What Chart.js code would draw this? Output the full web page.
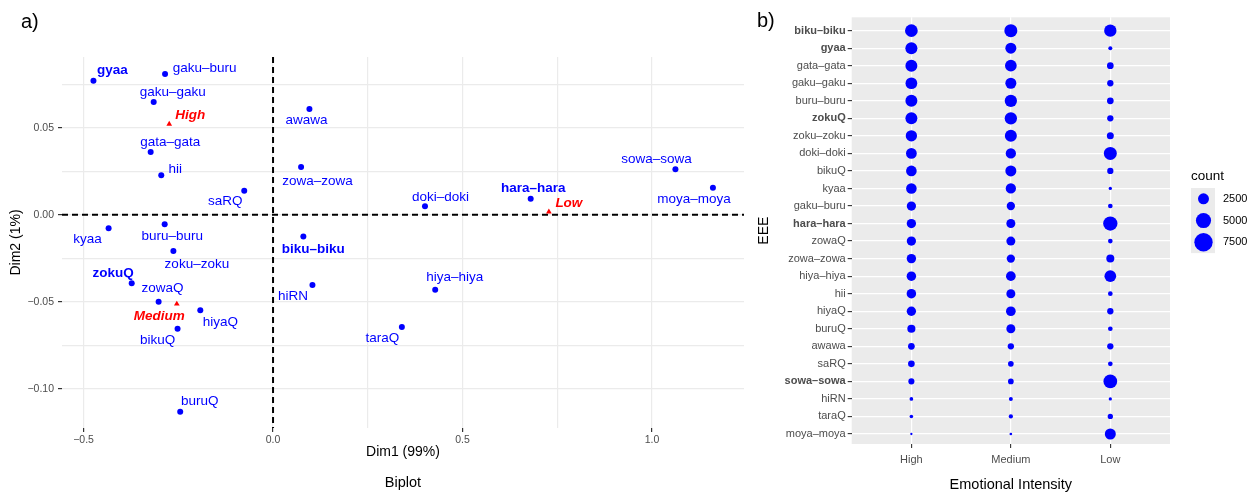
<!DOCTYPE html>
<html>
<head>
<meta charset="utf-8">
<title>Biplot and EEE counts</title>
<script src="https://cdn.jsdelivr.net/npm/chart.js@4.4.1/dist/chart.umd.min.js"></script>
<style>
  body { margin: 0; background: #fff; width: 1255px; height: 495px; position: relative; overflow: hidden;
         font-family: 'Liberation Sans', Arial, Helvetica, sans-serif; }
  canvas { position: absolute; top: 0; }
  #biplot { left: 0; }
  #bubbles { left: 752px; }
  .tag { position: absolute; font-size: 20px; line-height: 20px; color: #000; }
  #biplotTitle { position: absolute; left: 62px; width: 682px; top: 474px; text-align: center;
                 font-size: 14.5px; line-height: 17px; color: #000; }
</style>
</head>
<body>
<canvas id="biplot" width="760" height="495"></canvas>
<canvas id="bubbles" width="503" height="495"></canvas>
<div class="tag" style="left:21px;top:11px">a)</div>
<div class="tag" style="left:757px;top:10px">b)</div>
<div id="biplotTitle">Biplot</div>
<script>
// ---- a) biplot: expressions and intensity levels on Dim1/Dim2
const words = ['gyaa', 'gaku–buru', 'gaku–gaku', 'gata–gata', 'hii', 'saRQ', 'awawa', 'zowa–zowa',
  'buru–buru', 'kyaa', 'biku–biku', 'zoku–zoku', 'zokuQ', 'zowaQ', 'hiyaQ', 'bikuQ', 'hiRN',
  'buruQ', 'taraQ', 'hiya–hiya', 'doki–doki', 'hara–hara', 'sowa–sowa', 'moya–moya'];
const wordDim1 = [-0.474, -0.285, -0.315, -0.323, -0.295, -0.076, 0.096, 0.074,
  -0.286, -0.434, 0.080, -0.263, -0.373, -0.302, -0.192, -0.252, 0.104,
  -0.245, 0.340, 0.428, 0.401, 0.680, 1.062, 1.161];
const wordDim2 = [0.0770, 0.0809, 0.0648, 0.0360, 0.0226, 0.0138, 0.0607, 0.0274,
  -0.0055, -0.0078, -0.0126, -0.0209, -0.0394, -0.0500, -0.0550, -0.0655, -0.0404,
  -0.1132, -0.0645, -0.0431, 0.0048, 0.0092, 0.0261, 0.0155];

const levels = ['High', 'Medium', 'Low'];
const levelDim1 = [-0.274, -0.254, 0.728];
const levelDim2 = [0.0520, -0.0513, 0.0016];

// grid positions on Dim1 (no line shown at -0.25 in the original)
const dim1Ticks = [-0.5, 0, 0.25, 0.5, 0.75, 1.0];
const dim2Ticks = [-0.1, -0.075, -0.05, -0.025, 0, 0.025, 0.05, 0.075];

// ---- b) counts per expression and intensity
const eee = ['biku–biku', 'gyaa', 'gata–gata', 'gaku–gaku', 'buru–buru', 'zokuQ', 'zoku–zoku',
  'doki–doki', 'bikuQ', 'kyaa', 'gaku–buru', 'hara–hara', 'zowaQ', 'zowa–zowa', 'hiya–hiya',
  'hii', 'hiyaQ', 'buruQ', 'awawa', 'saRQ', 'sowa–sowa', 'hiRN', 'taraQ', 'moya–moya'];
const countHigh = [3420, 3050, 3000, 2880, 3010, 2990, 2650, 2380, 2320, 2300, 1700, 1740,
  1720, 1760, 1790, 1800, 1740, 1260, 820, 800, 640, 180, 170, 40];
const countMedium = [3600, 2500, 2860, 2500, 3190, 3190, 3020, 2160, 2500, 2160, 1330, 1600,
  1600, 1330, 1890, 1600, 1890, 1600, 700, 550, 550, 225, 270, 70];
const countLow = [3190, 225, 810, 700, 810, 700, 900, 3600, 700, 130, 340, 4420,
  340, 1225, 2860, 340, 700, 340, 700, 340, 4030, 130, 460, 2500];
const countBreaks = [2500, 5000, 7500];

// ---- label layout (pixel nudges, like ggrepel) and emphasis
const wordNudge = [[19, -10], [39.5, -6], [19, -10], [19.5, -10], [14, -6], [-19, 10.5], [-3, 11], [16.5, 14],
  [7.5, 12], [-21, 11], [10, 12.5], [23.5, 13], [-18.5, -10], [4, -13], [20, 12], [-20, 11.5], [-19.5, 11.5],
  [19.5, -10], [-19.5, 11.5], [19.5, -12.5], [15.5, -9.5], [2.5, -10], [-19, -9.5], [-19, 11.5]];
const levelNudge = [[21, -9], [-17.5, 12.5], [20, -9]];
const boldA = new Set(['gyaa', 'zokuQ', 'biku–biku', 'hara–hara']);
const boldB = new Set(['biku–biku', 'gyaa', 'zokuQ', 'hara–hara', 'sowa–sowa']);

const FONT = "'Liberation Sans', Arial, Helvetica, sans-serif";
Chart.defaults.font.family = FONT;
Chart.defaults.animation = false;

const minus = s => s.replace('-', '\u2212');
const isMajor = (v, step) => Math.abs(v / step - Math.round(v / step)) < 1e-6;
const bubbleRadius = v => 0.5 + Math.sqrt(v) / 10;

// dashed reference lines through the origin
const zeroLines = {
  id: 'zeroLines',
  beforeDatasetsDraw(chart) {
    const { ctx, chartArea: a, scales: { x, y } } = chart;
    const x0 = x.getPixelForValue(0), y0 = y.getPixelForValue(0);
    ctx.save();
    ctx.strokeStyle = '#000';
    ctx.lineWidth = 2;
    ctx.setLineDash([6, 4]);
    ctx.beginPath();
    ctx.moveTo(x0, a.top); ctx.lineTo(x0, a.bottom);
    ctx.moveTo(a.left, y0); ctx.lineTo(a.right, y0);
    ctx.stroke();
    ctx.restore();
  }
};

// text labels next to each point
const pointLabels = {
  id: 'pointLabels',
  afterDatasetsDraw(chart) {
    const ctx = chart.ctx;
    const sets = [
      { text: words, nudge: wordNudge, color: '#0000ff', font: t => (boldA.has(t) ? 'bold ' : '') + '13.5px ' + FONT },
      { text: levels, nudge: levelNudge, color: '#ff0000', font: () => 'italic bold 13.5px ' + FONT }
    ];
    ctx.save();
    ctx.textAlign = 'center';
    ctx.textBaseline = 'middle';
    sets.forEach((s, di) => {
      chart.getDatasetMeta(di).data.forEach((pt, i) => {
        ctx.font = s.font(s.text[i]);
        ctx.fillStyle = s.color;
        ctx.fillText(s.text[i], pt.x + s.nudge[i][0], pt.y + s.nudge[i][1]);
      });
    });
    ctx.restore();
  }
};

new Chart(document.getElementById('biplot'), {
  type: 'scatter',
  data: {
    datasets: [
      { data: words.map((w, i) => ({ x: wordDim1[i], y: wordDim2[i] })),
        pointStyle: 'circle', pointRadius: 3, backgroundColor: '#0000ff', borderWidth: 0 },
      { data: levels.map((l, i) => ({ x: levelDim1[i], y: levelDim2[i] })),
        pointStyle: 'triangle', pointRadius: 3.3, backgroundColor: '#ff0000', borderWidth: 0 }
    ]
  },
  options: {
    responsive: false,
    events: [],
    layout: { padding: { top: 57, right: 16, bottom: 34, left: 0 } },
    plugins: { legend: { display: false }, tooltip: { enabled: false } },
    scales: {
      x: {
        type: 'linear', min: -0.557, max: 1.243,
        afterBuildTicks: s => { s.ticks = dim1Ticks.map(v => ({ value: v })); },
        afterFit: s => { s.height = 33; },
        border: { display: false },
        grid: { color: '#ebebeb', lineWidth: 1.2, tickLength: 4, tickWidth: 1.2,
                tickColor: c => (c.tick && isMajor(c.tick.value, 0.5)) ? '#333' : 'rgba(0,0,0,0)' },
        ticks: { autoSkip: false, maxRotation: 0, padding: 2, color: '#4d4d4d', font: { size: 10.5 },
                 callback: v => isMajor(v, 0.5) ? minus(v.toFixed(1)) : '' },
        title: { display: true, text: 'Dim1 (99%)', color: '#000', font: { size: 14 }, padding: 0 }
      },
      y: {
        type: 'linear', min: -0.1226, max: 0.0906,
        afterBuildTicks: s => { s.ticks = dim2Ticks.map(v => ({ value: v })); },
        afterFit: s => { s.width = 62; },
        border: { display: false },
        grid: { color: '#ebebeb', lineWidth: 1.2, tickLength: 4, tickWidth: 1.2,
                tickColor: c => (c.tick && isMajor(c.tick.value, 0.05)) ? '#333' : 'rgba(0,0,0,0)' },
        ticks: { autoSkip: false, padding: 4, color: '#4d4d4d', font: { size: 10.5 },
                 callback: v => isMajor(v, 0.05) ? minus(v.toFixed(2)) : '' },
        title: { display: true, text: 'Dim2 (1%)', color: '#000', font: { size: 14 }, padding: { top: 7.6, bottom: 0 } }
      }
    }
  },
  plugins: [zeroLines, pointLabels]
});

// ---- b) bubble grid
const panelBackground = {
  id: 'panelBackground',
  beforeDraw(chart) {
    const { ctx, chartArea: a } = chart;
    ctx.save();
    ctx.fillStyle = '#ebebeb';
    ctx.fillRect(a.left, a.top, a.right - a.left, a.bottom - a.top);
    ctx.restore();
  }
};

const sizeLegend = {
  id: 'sizeLegend',
  afterDraw(chart) {
    const ctx = chart.ctx;
    const x0 = chart.chartArea.right + 21;
    const keyH = 21.7, top = 188;
    ctx.save();
    ctx.fillStyle = '#000';
    ctx.font = '13.5px ' + FONT;
    ctx.textBaseline = 'middle';
    ctx.textAlign = 'left';
    ctx.fillText('count', x0, 176);
    ctx.fillStyle = '#ebebeb';
    ctx.fillRect(x0, top, 24, keyH * countBreaks.length);
    ctx.font = '11px ' + FONT;
    countBreaks.forEach((b, i) => {
      const cy = top + keyH * (i + 0.5);
      ctx.fillStyle = '#0000ff';
      ctx.beginPath();
      ctx.arc(x0 + 12.5, cy, bubbleRadius(b), 0, Math.PI * 2);
      ctx.fill();
      ctx.fillStyle = '#000';
      ctx.fillText(String(b), x0 + 32, cy);
    });
    ctx.restore();
  }
};

const bubblePoints = [];
[countHigh, countMedium, countLow].forEach((counts, li) => {
  counts.forEach((c, ri) => bubblePoints.push({ x: li + 1, y: ri + 1, r: bubbleRadius(c) }));
});

new Chart(document.getElementById('bubbles'), {
  type: 'bubble',
  data: { datasets: [{ data: bubblePoints, backgroundColor: '#0000ff', borderWidth: 0 }] },
  options: {
    responsive: false,
    events: [],
    layout: { padding: { top: 17.3, right: 85, bottom: 1, left: 0 } },
    plugins: { legend: { display: false }, tooltip: { enabled: false } },
    scales: {
      x: {
        type: 'linear', min: 0.4, max: 3.6,
        afterBuildTicks: s => { s.ticks = levels.map((l, i) => ({ value: i + 1 })); },
        afterFit: s => { s.height = 50; },
        border: { display: false },
        grid: { color: '#ffffff', lineWidth: 1.2, tickLength: 4, tickWidth: 1.1, tickColor: '#333' },
        ticks: { autoSkip: false, maxRotation: 0, padding: 5, color: '#4d4d4d', font: { size: 11 },
                 callback: v => levels[v - 1] },
        title: { display: true, text: 'Emotional Intensity', color: '#000', font: { size: 14.5 }, padding: 0 }
      },
      y: {
        type: 'linear', reverse: true, min: 0.24, max: 24.57,
        afterBuildTicks: s => { s.ticks = eee.map((e, i) => ({ value: i + 1 })); },
        afterFit: s => { s.width = 99.7; },
        border: { display: false },
        grid: { color: '#ffffff', lineWidth: 1.2, tickLength: 4, tickWidth: 1.1, tickColor: '#333' },
        ticks: { autoSkip: false, padding: 2, color: '#4d4d4d',
                 font: c => ({ size: 11, weight: (c.tick && boldB.has(eee[c.tick.value - 1])) ? 'bold' : 'normal' }),
                 callback: v => eee[v - 1] },
        title: { display: true, text: 'EEE', color: '#000', font: { size: 14 }, padding: { top: 3.6, bottom: 0 } }
      }
    }
  },
  plugins: [panelBackground, sizeLegend]
});
</script>
</body>
</html>
